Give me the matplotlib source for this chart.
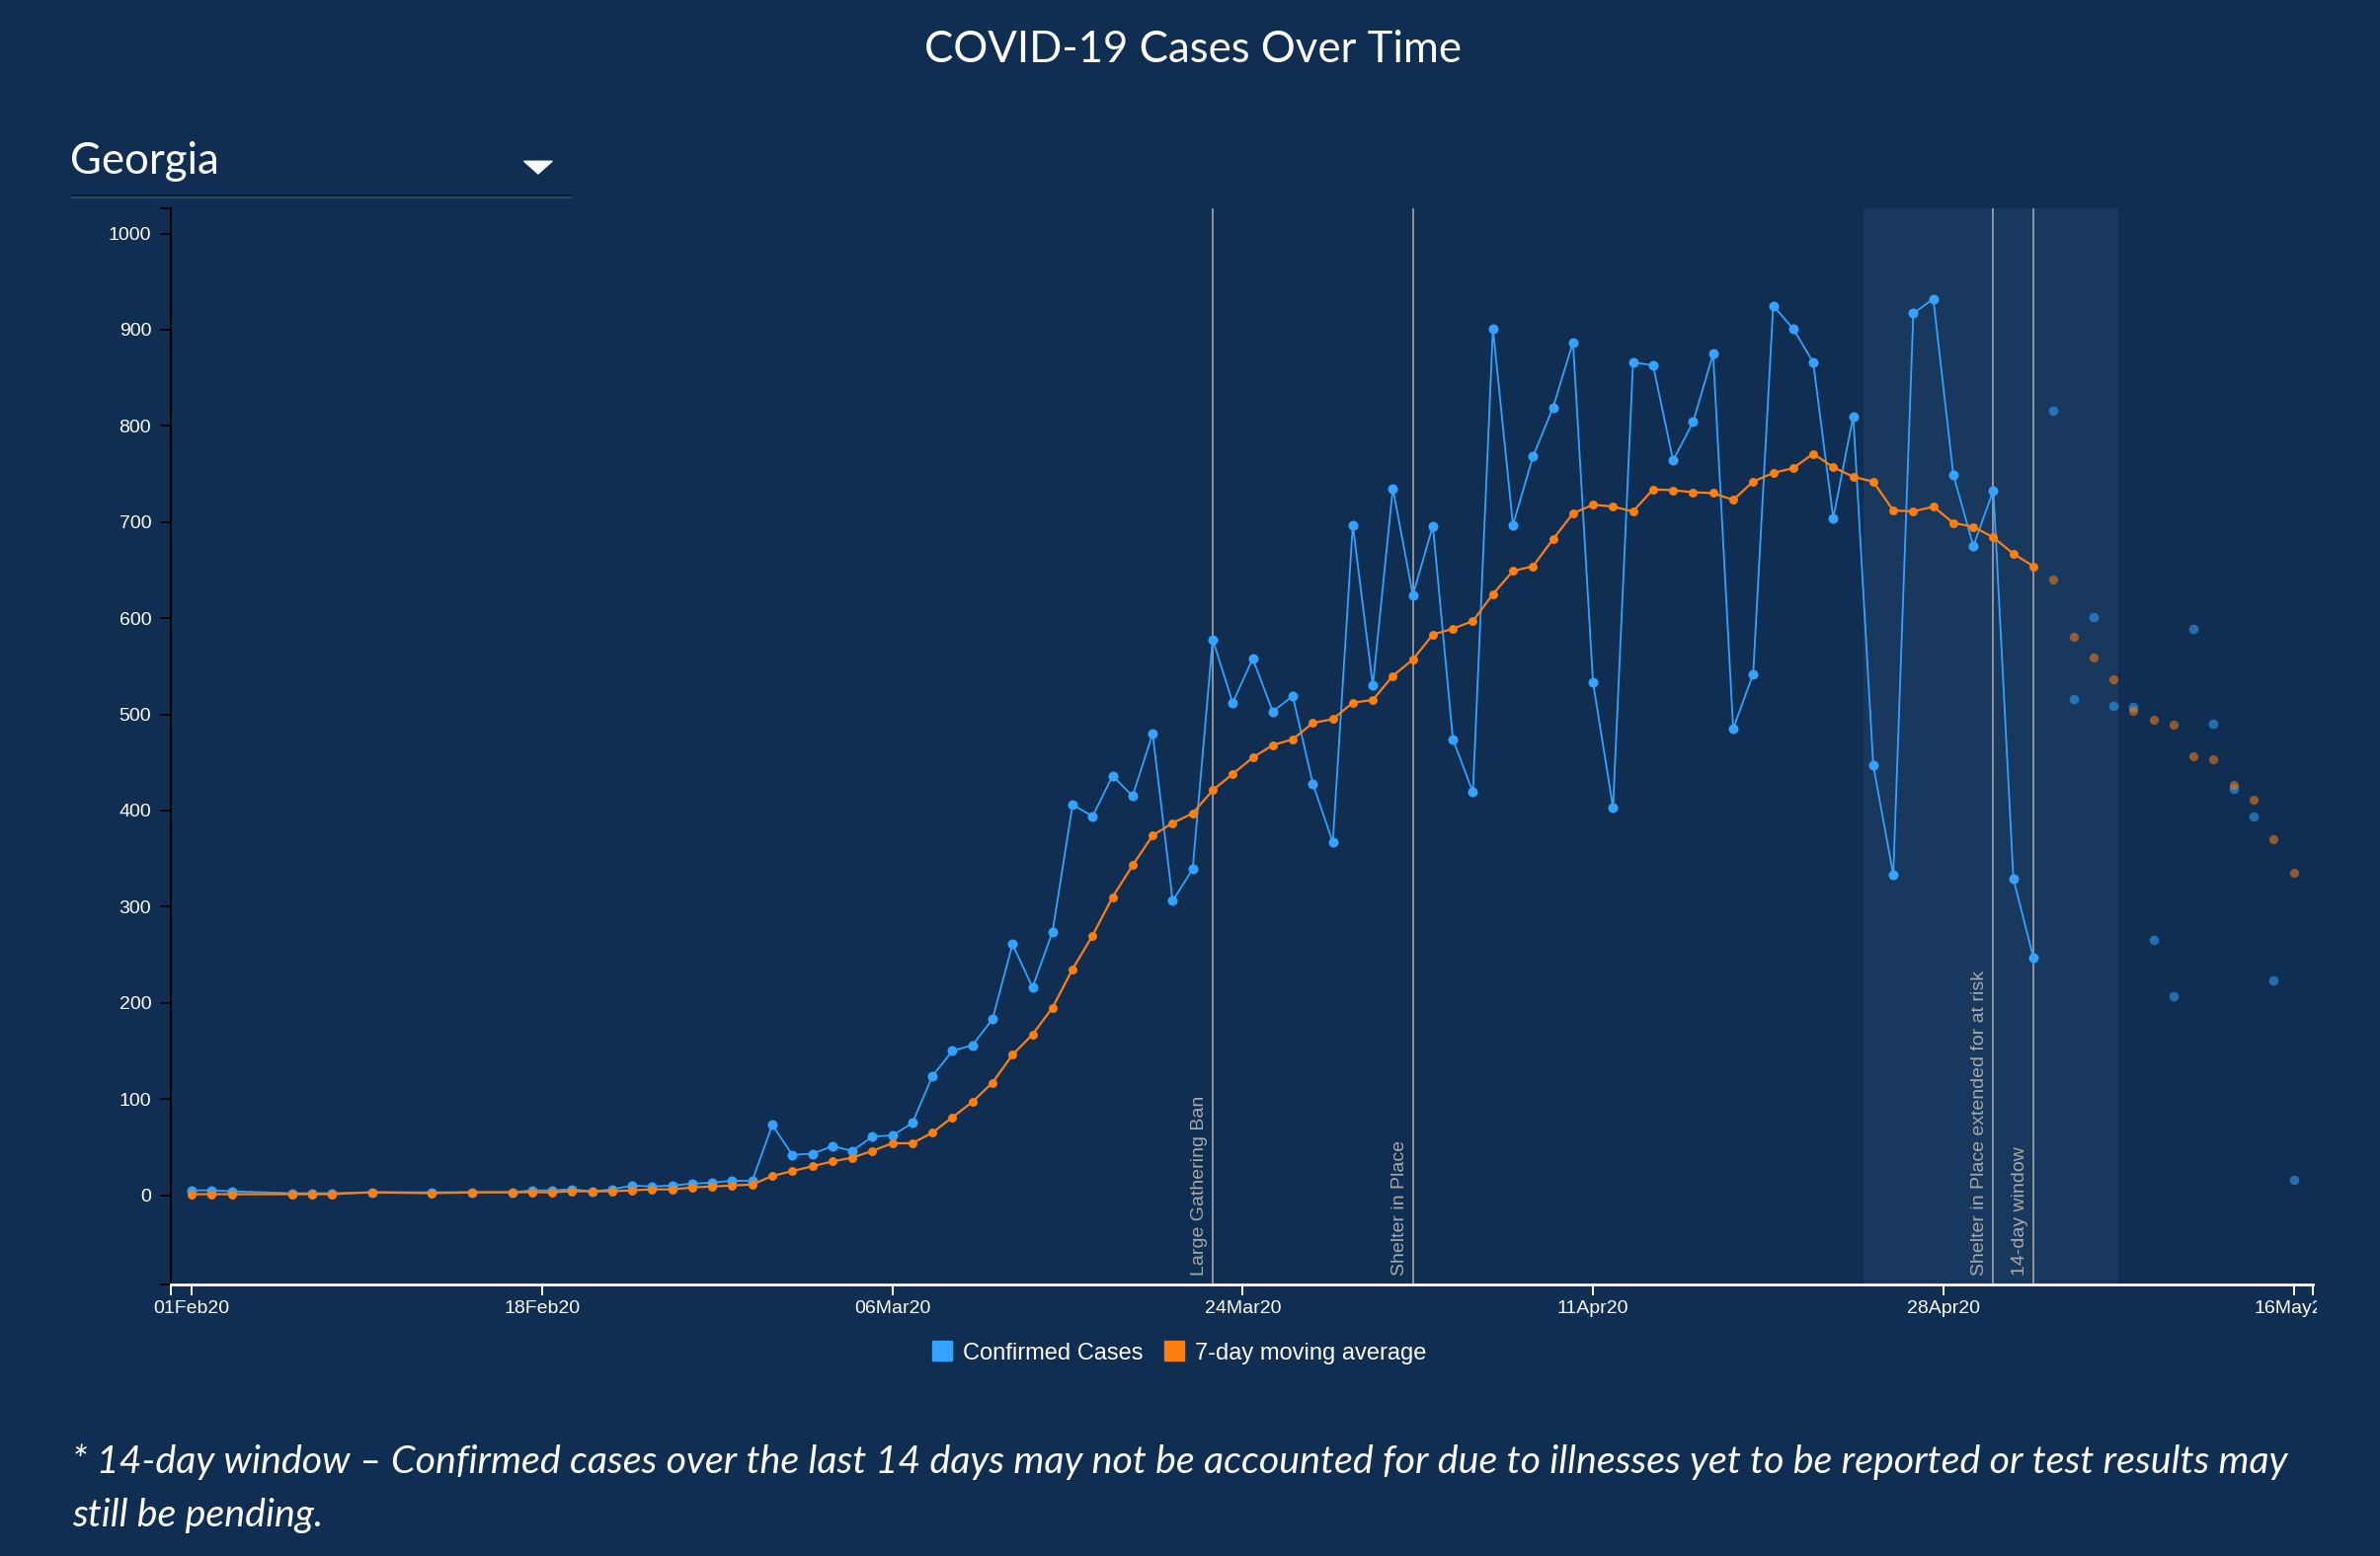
import matplotlib
matplotlib.use('Agg')
import matplotlib.pyplot as plt
import matplotlib.dates as mdates
from matplotlib.patches import Rectangle, Polygon
from matplotlib.lines import Line2D
from matplotlib.transforms import Bbox, TransformedBbox, offset_copy, blended_transform_factory
import numpy as np

# ---------------- data ----------------
start_date = '2020-02-01'
# day offsets from 01 Feb 2020 of reported days
day_offsets = [0, 1, 2, 5, 6, 7, 9, 12, 14, 16, 17, 18, 19, 20, 21, 22, 23, 24, 25, 26,
               27, 28, 29, 30, 31, 32, 33, 34, 35, 36, 37, 38, 39, 40, 41, 42, 43, 44, 45, 46,
               47, 48, 49, 50, 51, 52, 53, 54, 55, 56, 57, 58, 59, 60, 61, 62, 63, 64, 65, 66,
               67, 68, 69, 70, 71, 72, 73, 74, 75, 76, 77, 78, 79, 80, 81, 82, 83, 84, 85, 86,
               87, 88, 89, 90, 91, 92]
confirmed = [5, 5, 4, 2, 2, 2, 3, 3, 3, 3, 5, 5, 6, 4, 6, 10, 9, 10, 12, 13,
             15, 15, 73, 42, 43, 51, 46, 61, 62, 75, 124, 150, 156, 183, 261, 216, 274, 406, 394, 436,
             415, 480, 306, 339, 578, 512, 558, 503, 519, 428, 367, 697, 530, 735, 624, 696, 474, 419, 901, 697,
             768, 819, 887, 533, 403, 866, 863, 764, 804, 875, 485, 542, 925, 901, 866, 704, 810, 447, 333, 917,
             932, 749, 675, 733, 329, 247]
moving_avg = [1, 1, 1, 1, 1, 1, 3, 2, 3, 3, 3, 3, 4, 4, 4, 5, 6, 6, 8, 9,
              10, 11, 20, 25, 30, 35, 39, 46, 54, 54, 65, 81, 97, 117, 146, 167, 195, 235, 270, 310,
              343, 374, 387, 397, 421, 438, 455, 468, 474, 491, 495, 512, 515, 540, 557, 583, 589, 597, 625, 649,
              654, 682, 709, 718, 716, 711, 734, 733, 731, 730, 723, 742, 751, 756, 771, 757, 747, 742, 712, 711,
              716, 699, 695, 684, 667, 654]
# last days (inside the 14-day window, shown faded)
pending_offsets = [93, 94, 95, 96, 97, 98, 99, 100, 101, 102, 103, 104, 105]
pending_confirmed = [816, 516, 601, 509, 508, 265, 207, 589, 490, 423, 394, 223, 16]
pending_avg = [640, 581, 559, 536, 504, 494, 489, 456, 453, 427, 411, 370, 335]

tick_labels = ['01Feb20', '18Feb20', '06Mar20', '24Mar20', '11Apr20', '28Apr20', '16May20']
tick_step_days = 17.5
y_ticks = [0, 100, 200, 300, 400, 500, 600, 700, 800, 900, 1000]

event_labels = ['Large Gathering Ban', 'Shelter in Place',
                'Shelter in Place extended for at risk', '14-day window']
event_dates = ['2020-03-23', '2020-04-02', '2020-05-01', '2020-05-03']
window_start = '2020-04-24T12:00'
window_end = '2020-05-07T05:30'

series_names = ['Confirmed Cases', '7-day moving average']

# ---------------- style ----------------
W, H, DPI = 2410, 1576, 100
BG = '#0f2e51'
SHADE = '#18385e'
BLUE = '#33a3ff'
ORANGE = '#ff7f0e'
EVENT = '#b0b0b0'
TICKFONT = 'Liberation Sans'

fig = plt.figure(figsize=(W / DPI, H / DPI), dpi=DPI, facecolor=BG)

L, R, T, B = 172.5, 2341.6, 210.7, 1300.7
ax = fig.add_axes([L / W, 1 - B / H, (R - L) / W, (B - T) / H])
ax.set_facecolor(BG)

x0 = mdates.date2num(np.datetime64(start_date))
x_solid = x0 + np.array(day_offsets, dtype=float)
x_pend = x0 + np.array(pending_offsets, dtype=float)

xmin, xmax = x0 - 1.07, x0 + 105.94
ymin, ymax = -92.6, 1026.5
ax.set_xlim(xmin, xmax)
ax.set_ylim(ymin, ymax)

# shaded 14-day window
ax.axvspan(mdates.date2num(np.datetime64(window_start)), mdates.date2num(np.datetime64(window_end)),
           color=SHADE, lw=0, zorder=0)

# event lines + labels
tr = blended_transform_factory(ax.transData, ax.transAxes)
tr_lbl = offset_copy(tr, fig=fig, x=-5, y=9, units='dots')
for lab, d in zip(event_labels, event_dates):
    xd = mdates.date2num(np.datetime64(d))
    ax.axvline(xd, color=EVENT, lw=1.1, zorder=1)
    ax.text(xd, 0, lab, transform=tr_lbl, rotation=90, ha='right', va='bottom',
            fontsize=14, color='#a9a9a9', family=TICKFONT, zorder=2)

# series
ax.plot(x_solid, confirmed, color=BLUE, lw=1.3, marker='o', ms=7.2, mew=0, zorder=3)
ax.plot(x_solid, moving_avg, color=ORANGE, lw=1.6, marker='o', ms=6.4, mew=0, zorder=4)
ax.plot(x_pend, pending_confirmed, ls='none', marker='o', ms=7.0, mew=0, color=BLUE, alpha=0.55, zorder=3)
ax.plot(x_pend, pending_avg, ls='none', marker='o', ms=6.6, mew=0, color=ORANGE, alpha=0.55, zorder=4)

# axes styling
for s in ['top', 'right']:
    ax.spines[s].set_visible(False)
ax.spines['left'].set_color('black')
ax.spines['left'].set_linewidth(1.4)
ax.spines['bottom'].set_color('white')
ax.spines['bottom'].set_linewidth(2.0)

ax.set_xticks(x0 + tick_step_days * np.arange(len(tick_labels)))
ax.set_xticklabels(tick_labels)
ax.set_yticks(y_ticks)
ax.set_yticklabels([str(v) for v in y_ticks])
ax.set_xticks([xmin, xmax], minor=True)
ax.set_yticks([ymin, ymax], minor=True)
ax.tick_params(axis='x', which='both', colors='white', length=7.9, width=1.4, pad=4, labelsize=14)
ax.tick_params(axis='y', which='both', color='black', labelcolor='white', length=7.9, width=1.4,
               pad=6, labelsize=14)
for lbl in ax.get_xticklabels() + ax.get_yticklabels():
    lbl.set_family(TICKFONT)

# clip last x tick label at the chart edge
last = ax.get_xticklabels()[-1]
last.set_clip_box(TransformedBbox(Bbox.from_extents(0, 0, (R + 4) / W, 1), fig.transFigure))
last.set_clip_on(True)

# ---------------- header ----------------
def fx(px):
    return px / W

def fy(py):
    return 1 - py / H

fig.text(fx(1207.7), fy(63.3), 'COVID-19 Cases Over Time', ha='center', va='baseline',
         fontsize=31.5, family='Lato', color='white')
fig.text(fx(71), fy(175.7), 'Georgia', ha='left', va='baseline', fontsize=31.5,
         family='Lato', color='white')
fig.add_artist(Line2D([fx(72.4), fx(577.6)], [fy(197.8), fy(197.8)], color='#0a1d36', lw=1.3,
                      transform=fig.transFigure))
fig.add_artist(Line2D([fx(72.4), fx(577.6)], [fy(199.8), fy(199.8)], color='#2c4a6f', lw=1.3,
                      transform=fig.transFigure))
fig.add_artist(Polygon([[fx(530.6), fy(163.3)], [fx(559.2), fy(163.3)], [fx(544.9), fy(176)]],
                       closed=True, color='white', transform=fig.transFigure))

# ---------------- legend ----------------
leg_items = [(944.3, 975, BLUE, series_names[0]), (1179, 1210, ORANGE, series_names[1])]
for rx, tx, col, name in leg_items:
    fig.add_artist(Rectangle((fx(rx), fy(1378.3)), 19.5 / W, 20 / H, color=col,
                             transform=fig.transFigure))
    fig.text(fx(tx), fy(1376.7), name, ha='left', va='baseline', fontsize=17,
             family=TICKFONT, color='white')

# ---------------- footnote ----------------
fig.text(fx(73), fy(1491.7),
         '* 14-day window \u2013 Confirmed cases over the last 14 days may not be accounted for due to '
         'illnesses yet to be reported or test results may',
         ha='left', va='baseline', fontsize=28.4, family='Lato', style='italic', color='white')
fig.text(fx(73), fy(1545.7), 'still be pending.', ha='left', va='baseline', fontsize=28.4,
         family='Lato', style='italic', color='white')

fig.savefig('out.png', dpi=DPI, facecolor=BG)
